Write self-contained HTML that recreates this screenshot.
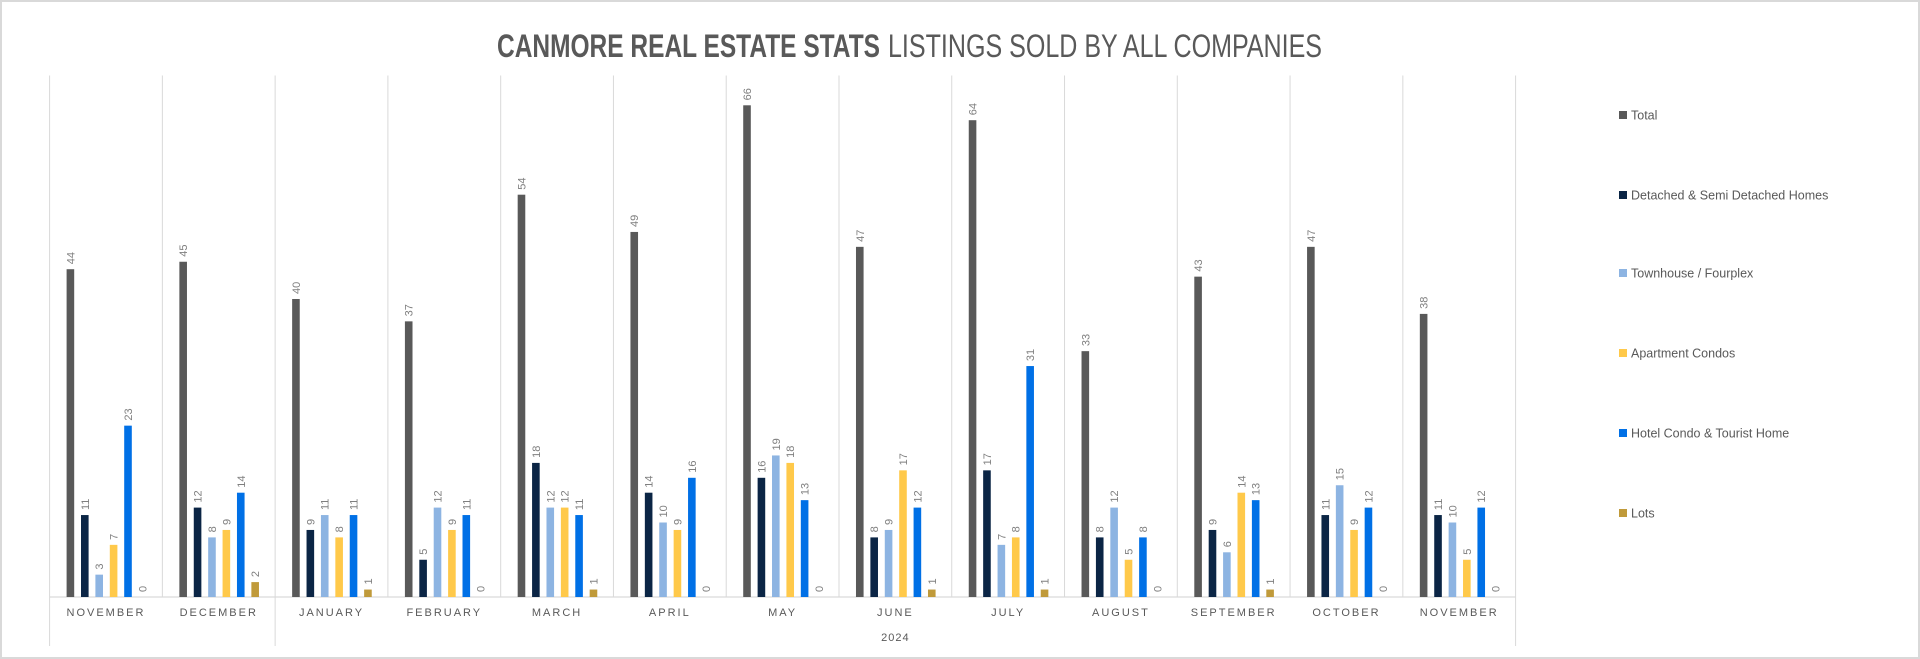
<!DOCTYPE html>
<html><head><meta charset="utf-8"><style>
html,body{margin:0;padding:0;background:#fff;}
svg{display:block;font-family:"Liberation Sans",sans-serif;}
</style></head><body>
<svg id="chart" width="1920" height="659" viewBox="0 0 1920 659">
<rect x="1" y="1" width="1918" height="657" fill="#fff" stroke="#d9d9d9" stroke-width="2"/>
<text x="497" y="57" font-size="32" fill="#595959"><tspan font-weight="bold" textLength="383" lengthAdjust="spacingAndGlyphs">CANMORE REAL ESTATE STATS</tspan><tspan dx="8" textLength="434" lengthAdjust="spacingAndGlyphs">LISTINGS SOLD BY ALL COMPANIES</tspan></text>
<g id="grid"></g><g id="bars"></g><g id="labels"></g><g id="legend"></g>
</svg>
<script>
const months=["NOVEMBER","DECEMBER","JANUARY","FEBRUARY","MARCH","APRIL","MAY","JUNE","JULY","AUGUST","SEPTEMBER","OCTOBER","NOVEMBER"];
const seriesNames=["Total","Detached & Semi Detached Homes","Townhouse / Fourplex","Apartment Condos","Hotel Condo & Tourist Home","Lots"];
const total=[44,45,40,37,54,49,66,47,64,33,43,47,38];
const detached=[11,12,9,5,18,14,16,8,17,8,9,11,11];
const townhouse=[3,8,11,12,12,10,19,9,7,12,6,15,10];
const apartment=[7,9,8,9,12,9,18,17,8,5,14,9,5];
const hotel=[23,14,11,11,11,16,13,12,31,8,13,12,12];
const lots=[0,2,1,0,1,0,0,1,1,0,1,0,0];
const yearLabel="2024";
const yMax=70;

const NS="http://www.w3.org/2000/svg";
const series=[total,detached,townhouse,apartment,hotel,lots];
const colors=["#595959","#0b2545","#8db4e2","#ffc94a","#0070e6","#c09a3a"];
const keys=["total","detached","townhouse","apartment","hotel","lots"];
const plotLeft=49.6,plotRight=1515.6,plotTop=75.5,plotBase=597;
const gw=(plotRight-plotLeft)/months.length;
function xGroup(i){return plotLeft+i*gw;}
function yScale(v){return plotBase-(v/yMax)*(plotBase-plotTop);}
function el(tag,attrs,parent){const e=document.createElementNS(NS,tag);for(const k in attrs)e.setAttribute(k,attrs[k]);parent.appendChild(e);return e;}
const gridG=document.getElementById('grid'),barsG=document.getElementById('bars'),labelsG=document.getElementById('labels'),legendG=document.getElementById('legend');
for(let i=0;i<=months.length;i++){
  const gx=xGroup(i);
  const isLong=(i===0||i===2||i===months.length);
  const l=el('line',{x1:gx,x2:gx,y1:plotTop,y2:isLong?646:plotBase,stroke:'#d9d9d9','stroke-width':1},gridG);
  
  
}
const ax=el('line',{x1:plotLeft,x2:plotRight,y1:plotBase,y2:plotBase,stroke:'#d9d9d9','stroke-width':1.2},gridG);


months.forEach((m,i)=>{
  const cx=xGroup(i)+gw/2;
  const t=el('text',{x:cx,y:616,'text-anchor':'middle','font-size':11,'letter-spacing':2,fill:'#595959'},labelsG);
  t.textContent=m;
  
  
  series.forEach((s,k)=>{
    const bx=xGroup(i)+17+k*14.4;
    const v=s[i];
    const by=yScale(v);
    if(v>0){
      const r=el('rect',{x:bx,y:by,width:7.6,height:plotBase-by,fill:colors[k]},barsG);
      
      
    }
    const lx=bx+3.8+4,ly=by-5;
    const vt=el('text',{x:lx,y:ly,'font-size':11,fill:'#7f7f7f',transform:'rotate(-90 '+lx+' '+ly+')'},labelsG);
    vt.textContent=v;
    
    
  });
});
const yt=el('text',{x:(xGroup(2)+plotRight)/2,y:641,'text-anchor':'middle','font-size':11,'letter-spacing':1,fill:'#595959'},labelsG);
yt.textContent=yearLabel;


const legY=[115,195,273,353,433,513];
seriesNames.forEach((n,k)=>{
  const g=el('g',{},legendG);
  
  
  el('rect',{x:1619,y:legY[k]-4,width:8,height:8,fill:colors[k]},g);
  const t=el('text',{x:1631,y:legY[k]+4.5,'font-size':12.5,fill:'#595959'},g);
  t.textContent=n;
});
</script>
</body></html>
